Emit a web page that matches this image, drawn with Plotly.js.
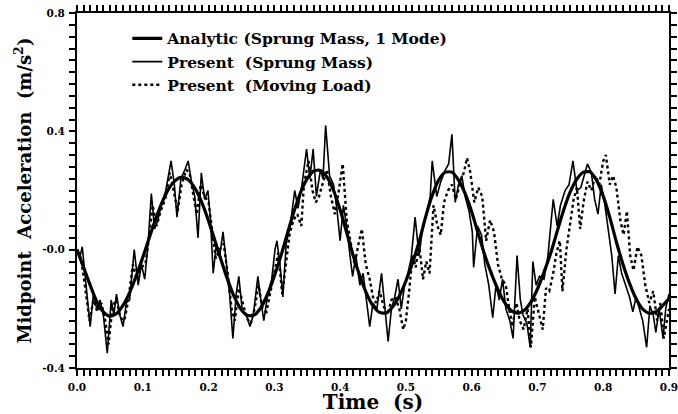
<!DOCTYPE html>
<html>
<head>
<meta charset="utf-8">
<script src="https://cdn.plot.ly/plotly-3.0.1.min.js"></script>
<style>html,body{margin:0;padding:0;background:#fff;}#chart{width:678px;height:414px;}</style>
</head>
<body>
<div id="chart"></div>
<script>
// ---- Analytic (Sprung Mass, 1 Mode) ----
var analyticT = [0.00,0.01,0.02,0.03,0.04,0.05,0.06,0.07,0.08,0.09,0.10,0.11,0.12,0.13,0.14,0.15,0.16,0.17,0.18,0.19,0.20,0.21,0.22,0.23,0.24,0.25,0.26,0.27,0.28,0.29,0.30,0.31,0.32,0.33,0.34,0.35,0.36,0.37,0.38,0.39,0.40,0.41,0.42,0.43,0.44,0.45,0.46,0.47,0.48,0.49,0.50,0.51,0.52,0.53,0.54,0.55,0.56,0.57,0.58,0.59,0.60,0.61,0.62,0.63,0.64,0.65,0.66,0.67,0.68,0.69,0.70,0.71,0.72,0.73,0.74,0.75,0.76,0.77,0.78,0.79,0.80,0.81,0.82,0.83,0.84,0.85,0.86,0.87,0.88,0.89,0.90];
var analyticV = [0.000,-0.060,-0.120,-0.175,-0.210,-0.225,-0.216,-0.188,-0.145,-0.089,-0.026,0.041,0.106,0.163,0.208,0.235,0.245,0.235,0.205,0.158,0.097,0.028,-0.042,-0.108,-0.164,-0.204,-0.223,-0.220,-0.194,-0.149,-0.089,-0.021,0.056,0.130,0.194,0.240,0.266,0.268,0.245,0.200,0.135,0.058,-0.021,-0.089,-0.147,-0.190,-0.212,-0.214,-0.193,-0.157,-0.106,-0.045,0.026,0.111,0.183,0.236,0.262,0.262,0.235,0.190,0.128,0.054,-0.019,-0.081,-0.135,-0.178,-0.206,-0.215,-0.205,-0.177,-0.133,-0.076,-0.013,0.062,0.135,0.196,0.239,0.262,0.263,0.234,0.181,0.109,0.026,-0.049,-0.114,-0.166,-0.201,-0.215,-0.210,-0.190,-0.165];

// ---- Present (Sprung Mass) ----
var sprungT = [0.000,0.005,0.008,0.013,0.020,0.025,0.030,0.035,0.040,0.046,0.052,0.056,0.060,0.065,0.070,0.075,0.080,0.087,0.093,0.098,0.103,0.108,0.113,0.118,0.123,0.128,0.135,0.143,0.148,0.152,0.158,0.164,0.169,0.174,0.179,0.184,0.189,0.194,0.199,0.203,0.207,0.212,0.217,0.222,0.227,0.232,0.237,0.242,0.246,0.251,0.257,0.263,0.268,0.275,0.280,0.284,0.290,0.296,0.301,0.304,0.309,0.313,0.318,0.324,0.331,0.336,0.342,0.349,0.354,0.359,0.364,0.370,0.374,0.378,0.384,0.390,0.395,0.400,0.405,0.410,0.415,0.419,0.424,0.430,0.435,0.440,0.445,0.450,0.456,0.463,0.468,0.473,0.478,0.483,0.488,0.493,0.498,0.503,0.508,0.514,0.520,0.526,0.532,0.537,0.540,0.547,0.553,0.560,0.565,0.570,0.575,0.580,0.585,0.590,0.596,0.601,0.603,0.609,0.615,0.620,0.626,0.632,0.637,0.642,0.647,0.652,0.658,0.663,0.669,0.674,0.678,0.684,0.689,0.693,0.698,0.703,0.710,0.716,0.721,0.724,0.730,0.735,0.742,0.748,0.754,0.760,0.766,0.771,0.776,0.782,0.787,0.792,0.797,0.802,0.808,0.813,0.818,0.823,0.828,0.834,0.840,0.845,0.850,0.855,0.860,0.866,0.871,0.876,0.880,0.885,0.891,0.895,0.900];
var sprungV = [0.00,-0.02,0.01,-0.10,-0.26,-0.15,-0.20,-0.17,-0.22,-0.35,-0.17,-0.22,-0.15,-0.22,-0.26,-0.18,-0.17,0.00,-0.12,-0.05,-0.10,0.02,0.19,0.07,0.10,0.15,0.20,0.30,0.22,0.11,0.24,0.27,0.30,0.23,0.18,0.04,0.26,0.17,0.20,0.10,-0.08,0.02,-0.02,0.06,-0.05,-0.15,-0.30,-0.15,-0.09,-0.20,-0.22,-0.26,-0.22,-0.09,-0.18,-0.24,-0.15,-0.10,0.00,0.03,-0.06,-0.16,0.02,0.08,0.20,0.14,0.22,0.34,0.24,0.34,0.18,0.27,0.24,0.42,0.25,0.22,0.14,0.03,0.15,0.08,-0.02,-0.09,-0.02,-0.12,-0.08,-0.18,-0.26,-0.18,-0.20,-0.08,-0.20,-0.31,-0.20,-0.16,-0.10,-0.20,-0.12,-0.08,-0.03,0.11,-0.02,0.08,0.13,0.18,0.30,0.18,0.23,0.27,0.29,0.39,0.16,0.22,0.25,0.18,0.13,0.06,-0.06,0.08,0.05,-0.05,-0.12,-0.23,-0.12,-0.17,-0.10,-0.20,-0.24,-0.30,-0.02,-0.17,-0.22,-0.25,-0.33,-0.04,-0.12,-0.09,-0.10,-0.02,0.10,0.17,0.08,0.15,0.20,0.22,0.30,0.20,0.21,0.25,0.29,0.26,0.17,0.12,0.22,0.16,0.06,-0.02,-0.15,-0.02,-0.08,-0.12,-0.16,-0.21,-0.16,-0.20,-0.24,-0.33,-0.19,-0.22,-0.28,-0.20,-0.30,-0.20,-0.15];

// ---- Present (Moving Load) ----
var movingT = [0.000,0.006,0.012,0.019,0.025,0.031,0.037,0.043,0.048,0.054,0.060,0.066,0.072,0.078,0.085,0.091,0.097,0.104,0.110,0.115,0.121,0.127,0.134,0.141,0.147,0.153,0.159,0.166,0.171,0.176,0.182,0.188,0.194,0.200,0.206,0.211,0.217,0.223,0.229,0.235,0.240,0.246,0.252,0.258,0.264,0.270,0.276,0.282,0.288,0.294,0.300,0.306,0.312,0.317,0.323,0.329,0.335,0.341,0.345,0.352,0.358,0.363,0.368,0.373,0.380,0.386,0.392,0.398,0.404,0.410,0.416,0.422,0.428,0.433,0.439,0.445,0.450,0.455,0.460,0.466,0.472,0.478,0.484,0.490,0.496,0.500,0.505,0.510,0.515,0.520,0.526,0.531,0.536,0.542,0.548,0.553,0.558,0.564,0.570,0.576,0.582,0.588,0.593,0.598,0.604,0.610,0.616,0.622,0.628,0.634,0.640,0.646,0.652,0.657,0.662,0.668,0.673,0.679,0.685,0.690,0.696,0.702,0.708,0.713,0.718,0.724,0.729,0.734,0.738,0.744,0.750,0.755,0.760,0.765,0.770,0.776,0.782,0.788,0.794,0.800,0.804,0.810,0.815,0.820,0.826,0.831,0.836,0.841,0.846,0.852,0.858,0.864,0.870,0.876,0.882,0.887,0.892,0.897,0.900];
var movingV = [0.00,-0.03,-0.12,-0.24,-0.17,-0.21,-0.18,-0.24,-0.32,-0.19,-0.17,-0.23,-0.24,-0.17,-0.05,-0.10,-0.06,-0.05,0.05,0.15,0.08,0.13,0.17,0.26,0.20,0.13,0.22,0.27,0.26,0.20,0.12,0.22,0.18,0.16,0.05,-0.03,0.00,0.02,-0.08,-0.20,-0.24,-0.13,-0.18,-0.23,-0.25,-0.20,-0.12,-0.20,-0.21,-0.14,-0.08,-0.01,-0.15,-0.05,0.05,0.10,0.12,0.08,0.22,0.30,0.20,0.16,0.18,0.22,0.27,0.18,0.12,0.20,0.29,0.10,0.02,-0.05,0.02,0.07,-0.05,-0.10,-0.16,-0.18,-0.14,-0.19,-0.22,-0.17,-0.16,-0.20,-0.27,-0.24,-0.14,-0.02,-0.06,0.02,-0.10,-0.04,-0.08,0.15,0.08,0.05,0.16,0.20,0.22,0.17,0.22,0.26,0.31,0.26,0.16,0.21,0.18,0.03,0.10,0.06,-0.05,-0.10,-0.12,-0.20,-0.26,-0.18,-0.24,-0.27,-0.20,-0.33,-0.16,-0.22,-0.27,-0.13,-0.14,-0.08,-0.01,0.03,-0.14,0.00,0.10,0.17,0.21,0.07,0.16,0.23,0.20,0.25,0.22,0.30,0.32,0.22,0.25,0.21,0.10,0.05,0.13,-0.02,-0.07,0.01,-0.02,-0.12,-0.18,-0.14,-0.24,-0.18,-0.30,-0.24,-0.20];

// ---- axis tick labels ----
var xTickVals = [0.0,0.1,0.2,0.3,0.4,0.5,0.6,0.7,0.8,0.9];
var xTickText = ["0.0","0.1","0.2","0.3","0.4","0.5","0.6","0.7","0.8","0.9"];
var yTickVals = [-0.4,0.0,0.4,0.8];
var yTickText = ["-0.4","-0.0","0.4","0.8"];
var xRange = [0, 0.9], yRange = [-0.4, 0.8];
var xMinorStep = 0.01, yMinorStep = 0.04;

function buildTicks(lo, hi, step, labVals, labText) {
  var vals = [], text = [];
  var n = Math.round((hi - lo) / step);
  for (var k = 0; k <= n; k++) {
    var v = +(lo + k * step).toFixed(4);
    var idx = -1;
    for (var m = 0; m < labVals.length; m++) if (Math.abs(labVals[m] - v) < 1e-6) idx = m;
    vals.push(v);
    text.push(idx >= 0 ? labText[idx] : '');
  }
  return {vals: vals, text: text};
}
var xT = buildTicks(xRange[0], xRange[1], xMinorStep, xTickVals, xTickText);
var yT = buildTicks(yRange[0], yRange[1], yMinorStep, yTickVals, yTickText);

var FONT = "'DejaVu Serif', 'Liberation Serif', serif";

var traces = [
  {x: analyticT, y: analyticV, type: 'scatter', mode: 'lines', name: 'Analytic (Sprung Mass, 1 Mode)',
   line: {color: '#000', width: 3.2, shape: 'spline', smoothing: 0.6}},
  {x: sprungT, y: sprungV, type: 'scatter', mode: 'lines', name: 'Present\u00a0\u00a0(Sprung Mass)',
   line: {color: '#000', width: 1.6}},
  {x: movingT, y: movingV, type: 'scatter', mode: 'lines', name: 'Present\u00a0\u00a0(Moving Load)',
   line: {color: '#000', width: 2.4, dash: 'dot'}}
];

var axisCommon = {
  showgrid: false, zeroline: false, showline: true, linecolor: '#000', linewidth: 2,
  ticks: 'outside', ticklen: 6, tickwidth: 2, tickcolor: '#000', mirror: 'allticks',
  ticklabeloverflow: 'allow', ticklabelstandoff: 2,
  tickfont: {family: FONT, size: 10.5, color: '#000', weight: 'bold'}
};

var layout = {
  width: 678, height: 414,
  margin: {l: 77, r: 9, t: 13, b: 46},
  paper_bgcolor: '#fff', plot_bgcolor: '#fff',
  font: {family: FONT, color: '#000'},
  showlegend: true,
  legend: {x: 0.085, y: 0.975, xanchor: 'left', yanchor: 'top', bgcolor: 'rgba(0,0,0,0)',
           font: {family: FONT, size: 15.5, color: '#000', weight: 'bold'}, tracegroupgap: 0},
  xaxis: Object.assign({}, axisCommon, {
    range: xRange, tickmode: 'array', tickvals: xT.vals, ticktext: xT.text,
    title: {text: 'Time\u00a0\u00a0(s)', standoff: 4, font: {family: FONT, size: 20, color: '#000', weight: 'bold'}}
  }),
  yaxis: Object.assign({}, axisCommon, {
    range: yRange, tickmode: 'array', tickvals: yT.vals, ticktext: yT.text,
    title: {text: 'Midpoint\u00a0\u00a0Acceleration\u00a0\u00a0(m/s<sup>2</sup>)', standoff: 6, font: {family: FONT, size: 18, color: '#000', weight: 'bold'}}
  })
};

Plotly.newPlot('chart', traces, layout, {staticPlot: true, displayModeBar: false});
</script>
</body>
</html>
